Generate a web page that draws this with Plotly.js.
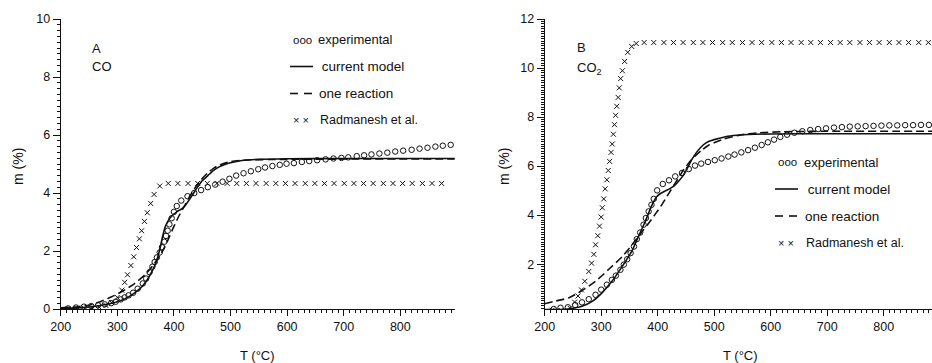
<!DOCTYPE html>
<html>
<head>
<meta charset="utf-8">
<script src="https://cdn.plot.ly/plotly-3.0.1.min.js"></script>
<style>html,body{margin:0;padding:0;background:#fff;}#chart{width:932px;height:363px;}</style>
</head>
<body>
<div id="chart"></div>
<script>
// ---------- Panel A: CO ----------
const expA_T = [213,227,241,254,266,278,289,297,306,313,320,328,336,345,351,357,362,366,370,375,379,383,386,389,392,396,400,405,413,424,436,448,460,473,486,498,510,523,536,549,561,574,587,599,612,626,639,653,668,682,696,708,723,736,749,763,777,791,805,820,834,848,862,875,889];
const expA_m = [0.02,0.05,0.08,0.1,0.13,0.16,0.2,0.25,0.33,0.4,0.47,0.56,0.7,0.88,1.05,1.27,1.46,1.62,1.78,1.95,2.13,2.32,2.52,2.7,2.92,3.13,3.35,3.55,3.74,3.89,4.0,4.1,4.2,4.29,4.39,4.49,4.6,4.68,4.75,4.82,4.88,4.93,4.97,5.01,5.03,5.07,5.1,5.13,5.16,5.19,5.21,5.23,5.27,5.3,5.33,5.36,5.39,5.43,5.46,5.49,5.53,5.56,5.6,5.63,5.66];

const modelA_T = [200,230,250,270,290,300,310,320,330,340,350,360,365,370,375,380,385,390,395,400,405,410,415,420,430,440,450,460,470,480,490,500,520,550,600,700,800,896];
const modelA_m = [0.02,0.04,0.07,0.12,0.2,0.25,0.32,0.42,0.55,0.7,0.92,1.25,1.45,1.7,2.05,2.5,2.85,3.05,3.18,3.27,3.35,3.41,3.47,3.57,3.85,4.15,4.42,4.6,4.78,4.9,4.98,5.04,5.12,5.16,5.18,5.19,5.19,5.19];

const oneA_T = [200,230,250,270,290,310,330,350,365,380,390,400,410,420,430,440,450,460,470,480,500,530,600,700,896];
const oneA_m = [0.04,0.08,0.13,0.25,0.42,0.62,0.87,1.2,1.55,2.0,2.4,2.85,3.25,3.6,3.95,4.25,4.5,4.7,4.85,4.96,5.08,5.14,5.16,5.17,5.17];

const radA_T = [213,228,242,255,268,280,290,300,308,313,318,324,329,334,339,343,348,353,359,365,375,
  390,407,425,442,459,476,494,511,528,545,563,580,597,614,632,649,666,683,701,718,735,752,770,787,804,821,839,856,873];
const radA_m = [0,0,0.02,0.03,0.06,0.12,0.22,0.4,0.65,0.92,1.18,1.5,1.8,2.12,2.42,2.7,3.02,3.32,3.64,3.95,4.24,
  4.33,4.33,4.33,4.33,4.33,4.33,4.33,4.33,4.33,4.33,4.33,4.33,4.33,4.33,4.33,4.33,4.33,4.33,4.33,4.33,4.33,4.33,4.33,4.33,4.33,4.33,4.33,4.33,4.33];

// ---------- Panel B: CO2 ----------
const expB_T = [216,228,241,254,266,278,290,300,310,319,326,334,340,346,352,358,363,369,375,379,384,389,393,399,409,420,431,443,455,466,477,489,501,513,525,536,548,560,572,584,595,606,617,629,642,656,670,684,698,712,726,740,754,768,782,796,810,824,838,852,866,880];
const expB_m = [0.17,0.22,0.24,0.33,0.44,0.57,0.75,0.96,1.16,1.36,1.53,1.77,1.98,2.2,2.45,2.72,3.02,3.29,3.61,3.88,4.15,4.42,4.66,5.01,5.27,5.42,5.58,5.72,5.88,6.02,6.1,6.17,6.24,6.31,6.39,6.47,6.56,6.65,6.75,6.86,6.97,7.08,7.19,7.28,7.36,7.42,7.47,7.51,7.54,7.57,7.59,7.61,7.62,7.63,7.64,7.65,7.66,7.66,7.67,7.67,7.68,7.68];

const modelB_T = [200,220,240,255,266,284,301,319,337,354,366,378,390,399,405,413,420,428,435,443,450,460,470,480,490,500,520,540,560,600,700,886];
const modelB_m = [0.15,0.15,0.17,0.22,0.28,0.48,0.82,1.3,1.9,2.52,3.13,3.74,4.42,4.77,4.88,4.98,5.06,5.17,5.33,5.55,5.8,6.25,6.6,6.85,7.0,7.08,7.2,7.26,7.29,7.31,7.32,7.32];

const oneB_T = [200,220,242,266,290,313,337,360,375,385,396,408,420,431,443,455,466,478,490,514,549,580,620,700,886];
const oneB_m = [0.38,0.5,0.62,0.92,1.3,1.78,2.3,2.95,3.4,3.7,4.05,4.45,4.9,5.3,5.75,6.13,6.4,6.65,6.85,7.08,7.28,7.36,7.4,7.42,7.42];

const radB_T = [213,230,245,253,259,265,271,278,283,287,290,294,297,300,302,304.5,307,310,312.5,315,317.5,319.5,321.5,323.5,325.5,327.5,330,332,334.5,337.5,341.5,347,354,362,
  376,393,411,428,445,463,480,497,515,532,550,567,584,602,619,636,654,671,688,706,723,740,758,775,792,810,827,844,862,879];
const radB_m = [0.12,0.1,0.2,0.45,0.7,0.95,1.3,1.7,2.04,2.4,2.79,3.16,3.55,3.92,4.3,4.66,5.07,5.44,5.82,6.19,6.56,6.9,7.3,7.69,8.07,8.44,8.8,9.19,9.57,9.89,10.27,10.64,10.88,11.0,
  11.04,11.04,11.04,11.04,11.04,11.04,11.04,11.04,11.04,11.04,11.04,11.04,11.04,11.04,11.04,11.04,11.04,11.04,11.04,11.04,11.04,11.04,11.04,11.04,11.04,11.04,11.04,11.04,11.04,11.04];

const seriesNames = ['experimental', 'current model', 'one reaction', 'Radmanesh et al.'];
const xTitle = 'T (°C)';
const yTitle = 'm (%)';

// ---------- styling ----------
const W = 932, H = 363;
const FONT = '"Liberation Sans", Arial, sans-serif';
const INK = '#111';
const px = v => v / W;
const py = v => 1 - v / H;

function tracesFor(xa, ya, eT, em, mT, mm, oT, om, rT, rm) {
  return [
    {x: mT, y: mm, xaxis: xa, yaxis: ya, mode: 'lines', name: seriesNames[1],
     line: {color: INK, width: 1.6, shape: 'spline', smoothing: 0.6}},
    {x: oT, y: om, xaxis: xa, yaxis: ya, mode: 'lines', name: seriesNames[2],
     line: {color: INK, width: 1.6, dash: '8px,4px', shape: 'spline', smoothing: 0.6}},
    {x: eT, y: em, xaxis: xa, yaxis: ya, mode: 'markers', name: seriesNames[0],
     marker: {symbol: 'circle-open', size: 5.5, color: INK, line: {width: 1, color: INK}}},
    {x: rT, y: rm, xaxis: xa, yaxis: ya, mode: 'markers', name: seriesNames[3],
     marker: {symbol: 'x-thin-open', size: 5, color: INK, line: {width: 1, color: INK}}}
  ];
}

const data = [
  ...tracesFor('x', 'y', expA_T, expA_m, modelA_T, modelA_m, oneA_T, oneA_m, radA_T, radA_m),
  ...tracesFor('x2', 'y2', expB_T, expB_m, modelB_T, modelB_m, oneB_T, oneB_m, radB_T, radB_m)
];

const yDom = [(H - 309) / H, (H - 19) / H];
function xAxis(dom, range) {
  return {domain: dom, range: range, showline: true, linecolor: INK, linewidth: 1,
    ticks: 'outside', ticklen: 6, tickwidth: 1, tickcolor: INK, tick0: 200, dtick: 100,
    minor: {ticks: 'outside', ticklen: 3, tickwidth: 1, tickcolor: INK, dtick: 10, tick0: 200, showgrid: false},
    showgrid: false, zeroline: false, tickfont: {family: FONT, size: 12.5, color: INK}};
}
function yAxis(range, minorStep, anchor) {
  return {domain: yDom, range: range, anchor: anchor, showline: true, linecolor: INK, linewidth: 1,
    ticks: 'outside', ticklen: 7, tickwidth: 1, tickcolor: INK, tick0: 0, dtick: 2,
    minor: {ticks: 'outside', ticklen: 3, tickwidth: 1, tickcolor: INK, dtick: minorStep, tick0: 0, showgrid: false},
    showgrid: false, zeroline: false, tickfont: {family: FONT, size: 12.5, color: INK}};
}

const textFont = {family: FONT, size: 13, color: INK};
function txt(t, x, y, opts) {
  return Object.assign({text: t, x: px(x), y: py(y), xref: 'paper', yref: 'paper',
    xanchor: 'left', yanchor: 'middle', showarrow: false, font: textFont}, opts || {});
}

function legendBlock(symX, txtX, y0, dy) {
  const a = [
    txt('ooo', symX, y0, {font: {family: FONT, size: 11.5, color: INK}}),
    txt(seriesNames[0], txtX, y0),
    txt(' ' + seriesNames[1], txtX, y0 + dy, {font: {family: FONT, size: 13.5, color: INK}}),
    txt(seriesNames[2], txtX + 1, y0 + 2 * dy, {font: {family: FONT, size: 13.5, color: INK}}),
    txt('× ×', symX, y0 + 3 * dy, {font: {family: FONT, size: 11, color: INK}}),
    txt(seriesNames[3], txtX + 2, y0 + 3 * dy, {font: {family: FONT, size: 12.5, color: INK}})
  ];
  const s = [
    {type: 'line', xref: 'paper', yref: 'paper', x0: px(symX - 1), x1: px(symX + 22), y0: py(y0 + dy), y1: py(y0 + dy), line: {color: INK, width: 1.6}},
    {type: 'line', xref: 'paper', yref: 'paper', x0: px(symX - 1), x1: px(symX + 7), y0: py(y0 + 2 * dy), y1: py(y0 + 2 * dy), line: {color: INK, width: 1.6}},
    {type: 'line', xref: 'paper', yref: 'paper', x0: px(symX + 13), x1: px(symX + 21), y0: py(y0 + 2 * dy), y1: py(y0 + 2 * dy), line: {color: INK, width: 1.6}}
  ];
  return {a, s};
}

const legA = legendBlock(291, 316, 39.5, 27);
const legB = legendBlock(776, 802, 162, 27);

const annotations = [
  txt('A', 90, 48), txt('CO', 90, 67),
  txt('B', 575, 47.5), txt('CO<sub>2</sub>', 575, 68),
  ...legA.a, ...legB.a,
  {text: yTitle, x: px(18), y: py(167), xref: 'paper', yref: 'paper', textangle: -90, showarrow: false, font: {family: FONT, size: 14, color: INK}, xanchor: 'center', yanchor: 'middle'},
  {text: yTitle, x: px(504), y: py(167), xref: 'paper', yref: 'paper', textangle: -90, showarrow: false, font: {family: FONT, size: 14, color: INK}, xanchor: 'center', yanchor: 'middle'},
  {text: xTitle, x: px(257), y: py(355), xref: 'paper', yref: 'paper', showarrow: false, font: textFont, xanchor: 'center', yanchor: 'middle'},
  {text: xTitle, x: px(740), y: py(355), xref: 'paper', yref: 'paper', showarrow: false, font: textFont, xanchor: 'center', yanchor: 'middle'}
];

const layout = {
  width: W, height: H, margin: {l: 0, r: 0, t: 0, b: 0},
  paper_bgcolor: '#fff', plot_bgcolor: '#fff', showlegend: false,
  font: textFont,
  xaxis: Object.assign(xAxis([60.7 / W, 455 / W], [200, 896.6]), {anchor: 'y'}),
  yaxis: yAxis([0, 10], 0.2, 'x'),
  xaxis2: Object.assign(xAxis([544.7 / W, 1], [200, 885.5]), {anchor: 'y2'}),
  yaxis2: yAxis([0.17, 12], 0.1, 'x2'),
  annotations: annotations,
  shapes: [...legA.s, ...legB.s]
};

Plotly.newPlot('chart', data, layout, {staticPlot: true, displayModeBar: false});
</script>
</body>
</html>
